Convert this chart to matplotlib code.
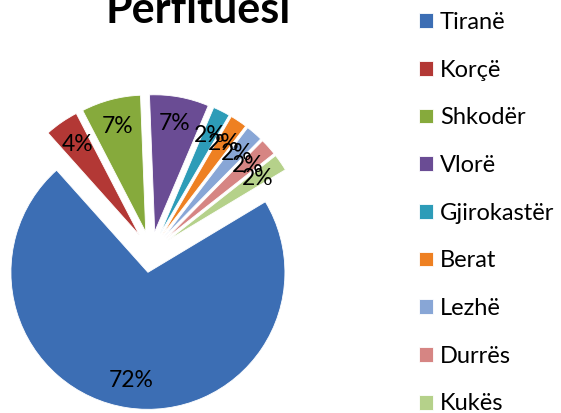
import matplotlib
matplotlib.use('Agg')
import matplotlib.pyplot as plt

cities = ['Tiranë', 'Korçë', 'Shkodër', 'Vlorë', 'Gjirokastër', 'Berat', 'Lezhë', 'Durrës', 'Kukës']
shares = [72, 4, 7, 7, 2, 2, 2, 2, 2]
colors = ['#3C6EB4', '#B33835', '#86AA3C', '#6A4C94', '#2D9CB8',
          '#EE8022', '#88A6D6', '#D68583', '#B5D18A']

plt.rcParams['font.family'] = ['Lato', 'DejaVu Sans']

fig = plt.figure(figsize=(5.61, 4.13), dpi=100)
# pie axes: pixel box x 0..380, y 60..413, pie centre at (151, 252), radius 137 px
ax = fig.add_axes([0, 0, 380 / 561, 353 / 413])
wedges, texts, autotexts = ax.pie(
    shares, colors=colors, explode=[0.15] * len(shares),
    startangle=31, counterclock=False, autopct='%1.0f%%', pctdistance=0.8,
    wedgeprops=dict(edgecolor='white', linewidth=0.6),
    textprops=dict(fontsize=16.5, color='black'))
ax.set_xlim(-151 / 137, 229 / 137)
ax.set_ylim(-161 / 137, 192 / 137)
ax.axis('off')

fig.text(198 / 561, 1 - 23 / 413, 'Përfituesi', ha='center', va='baseline',
         fontsize=31, fontweight='bold')

fig.legend(wedges, cities, loc='upper left', bbox_to_anchor=(419 / 561, 1 - 12 / 413),
           frameon=False, fontsize=17, borderpad=0, borderaxespad=0,
           labelspacing=1.13, handlelength=0.59, handleheight=0.59, handletextpad=0.3)

fig.savefig('out.png', dpi=100)
